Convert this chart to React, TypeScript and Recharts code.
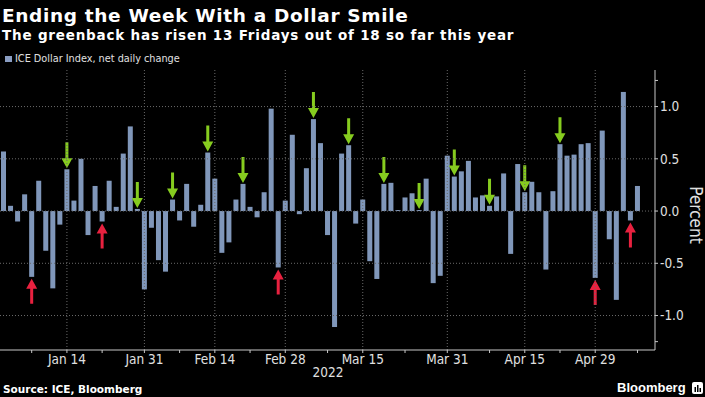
import { Bar, BarChart, ReferenceLine, XAxis, YAxis } from "recharts";

const janDays = [3, 4, 5, 6, 7, 10, 11, 12, 13, 14, 17, 18, 19, 20, 21, 24, 25, 26, 27, 28, 31];
const janChange = [0.57, 0.05, -0.1, 0.16, -0.63, 0.29, -0.38, -0.74, -0.13, 0.4, 0.1, 0.5, -0.23, 0.24, -0.1, 0.29, 0.04, 0.55, 0.81, 0.02, -0.75];
const febDays = [1, 2, 3, 4, 7, 8, 9, 10, 11, 14, 15, 16, 17, 18, 21, 22, 23, 24, 25, 28];
const febChange = [-0.16, -0.47, -0.58, 0.11, -0.09, 0.26, -0.15, 0.06, 0.56, 0.31, -0.4, -0.3, 0.11, 0.26, 0.04, -0.06, 0.18, 0.98, -0.54, 0.1];
const marDays = [1, 2, 3, 4, 7, 8, 9, 10, 11, 14, 15, 16, 17, 18, 21, 22, 23, 24, 25, 28, 29, 30, 31];
const marChange = [0.73, -0.03, 0.41, 0.88, 0.65, -0.23, -1.11, 0.55, 0.63, -0.12, 0.11, -0.48, -0.65, 0.26, 0.27, 0.01, 0.13, 0.17, 0.01, 0.31, -0.69, -0.62, 0.53];
const aprDays = [1, 4, 5, 6, 7, 8, 11, 12, 13, 14, 15, 18, 19, 20, 21, 22, 25, 26, 27, 28, 29];
const aprChange = [0.33, 0.38, 0.48, 0.13, 0.15, 0.05, 0.14, 0.36, -0.41, 0.45, 0.18, 0.28, 0.18, -0.56, 0.19, 0.64, 0.53, 0.54, 0.64, 0.65, -0.64];
const mayDays = [2, 3, 4, 5, 6, 9];
const mayChange = [0.77, -0.27, -0.85, 1.14, -0.09, 0.24];

const months = [
  { name: "Jan", index: 0, days: janDays, change: janChange },
  { name: "Feb", index: 1, days: febDays, change: febChange },
  { name: "Mar", index: 2, days: marDays, change: marChange },
  { name: "Apr", index: 3, days: aprDays, change: aprChange },
  { name: "May", index: 4, days: mayDays, change: mayChange }
];

const labelTicks = ["Jan 14", "Jan 31", "Feb 14", "Feb 28", "Mar 15", "Mar 31", "Apr 15", "Apr 29"];
const minorTicks = ["Jan 7", "Jan 21", "Feb 7", "Feb 21", "Mar 8", "Mar 23", "Apr 8", "Apr 22", "May 9"];
const yTicks = [-1.25, -1, -0.5, 0, 0.5, 1, 1.25];
const yGrid = [-1, -0.5, 0, 0.5, 1];

const data = months.flatMap((m) =>
  m.days.map((day, i) => ({
    date: `${m.name} ${day}`,
    change: m.change[i],
    friday: new Date(2022, m.index, day).getDay() === 5
  }))
);

const allTicks = data.map((d) => d.date).filter((d) => labelTicks.includes(d) || minorTicks.includes(d));

const font = "'DejaVu Sans Condensed', 'DejaVu Sans', sans-serif";
const wideFont = "'DejaVu Sans', sans-serif";
const barColor = "#8097ba";
const green = "#86cc1f";
const red = "#e8213f";
const gridColor = "#6a6a6a";
const axisColor = "#c8c8c8";
const textColor = "#e0e0e0";

function FridayBar(props: any) {
  const { x, y, width, height, payload } = props;
  const top = Math.min(y, y + height);
  const h = Math.abs(height);
  const bottom = top + h;
  const cx = x + width / 2;
  let arrow = null;
  if (payload.friday) {
    if (payload.change >= 0) {
      const tip = top - 1;
      arrow = (
        <path
          d={`M${cx - 1.5},${tip - 26} L${cx + 1.5},${tip - 26} L${cx + 1.5},${tip - 10} L${cx + 5.5},${tip - 10} L${cx},${tip} L${cx - 5.5},${tip - 10} L${cx - 1.5},${tip - 10} Z`}
          fill={green}
        />
      );
    } else {
      const tip = bottom + 2;
      arrow = (
        <path
          d={`M${cx - 1.5},${tip + 25} L${cx + 1.5},${tip + 25} L${cx + 1.5},${tip + 10} L${cx + 5.5},${tip + 10} L${cx},${tip} L${cx - 5.5},${tip + 10} L${cx - 1.5},${tip + 10} Z`}
          fill={red}
        />
      );
    }
  }
  return (
    <g>
      <rect x={x} y={top} width={width} height={h} fill={barColor} />
      {arrow}
    </g>
  );
}

export default function App() {
  return (
    <div style={{ position: "absolute", left: 0, top: 0, width: 705, height: 397, background: "#000", overflow: "hidden", fontFamily: font, fontStretch: "condensed" }}>
      <div style={{ position: "absolute", left: 2, top: 4.5, fontSize: 18.5, lineHeight: "22px", fontWeight: 700, color: "#fff", whiteSpace: "nowrap", fontFamily: wideFont, fontStretch: "normal", letterSpacing: 0.65 }}>
        Ending the Week With a Dollar Smile
      </div>
      <div style={{ position: "absolute", left: 2, top: 26.5, fontSize: 13.5, lineHeight: "16px", fontWeight: 700, color: "#fff", whiteSpace: "nowrap", fontFamily: wideFont, fontStretch: "normal", letterSpacing: 0.8 }}>
        The greenback has risen 13 Fridays out of 18 so far this year
      </div>
      <div style={{ position: "absolute", left: 5, top: 52, fontSize: 10.8, lineHeight: "14px", color: textColor, whiteSpace: "nowrap", display: "flex", alignItems: "center" }}>
        <span style={{ display: "inline-block", width: 7, height: 6, background: "#8a9dc2", marginRight: 3 }} />
        ICE Dollar Index, net daily change
      </div>

      <div style={{ position: "absolute", left: 0, top: 0 }}>
        <BarChart width={705} height={397} data={data} margin={{ top: 70, right: 0, left: 0, bottom: 27 }} barSize={5}>
          {yGrid.map((v) => (
            <ReferenceLine key={`h${v}`} y={v} stroke={gridColor} strokeDasharray="1 2" />
          ))}
          {labelTicks.map((t) => (
            <ReferenceLine key={`v${t}`} x={t} stroke={gridColor} strokeDasharray="1 2" />
          ))}
          <XAxis
            dataKey="date"
            ticks={allTicks}
            interval={0}
            height={20}
            padding={{ left: 0, right: 14 }}
            tickFormatter={(v: string) => (labelTicks.includes(v) ? v : "")}
            tick={{ fill: textColor, fontSize: 13.5, fontFamily: font }}
            tickSize={3}
            tickMargin={1}
            stroke={axisColor}
          />
          <YAxis
            orientation="right"
            width={50}
            domain={[-1.33, 1.35]}
            ticks={yTicks}
            interval={0}
            tickFormatter={(v: number) => (Math.abs(v) === 1.25 ? "" : v.toFixed(1))}
            tick={{ fill: textColor, fontSize: 13.5, fontFamily: font }}
            tickSize={3}
            tickMargin={2}
            stroke={axisColor}
          />
          <Bar dataKey="change" fill={barColor} isAnimationActive={false} shape={FridayBar} />
        </BarChart>
      </div>

      <div style={{ position: "absolute", left: 696, top: 215, fontSize: 17, color: textColor, whiteSpace: "nowrap", transform: "translate(-50%, -50%) rotate(90deg)", transformOrigin: "center" }}>
        Percent
      </div>
      <div style={{ position: "absolute", left: 328, top: 364, fontSize: 13.5, lineHeight: "16px", color: textColor, transform: "translateX(-50%)" }}>
        2022
      </div>
      <div style={{ position: "absolute", left: 3, top: 382, fontSize: 10.5, lineHeight: "14px", fontWeight: 700, color: "#fff", whiteSpace: "nowrap", fontFamily: wideFont, fontStretch: "normal" }}>
        Source: ICE, Bloomberg
      </div>
      <div style={{ position: "absolute", left: 617, top: 380, fontSize: 13, lineHeight: "16px", fontWeight: 700, color: "#fff", fontFamily: "'Liberation Sans', Arial, sans-serif", fontStretch: "normal", whiteSpace: "nowrap" }}>
        Bloomberg
      </div>
      <svg style={{ position: "absolute", left: 692, top: 382 }} width={11} height={12}>
        <rect x={0} y={0} width={11} height={12} rx={2} fill="#fff" />
        <rect x={2.5} y={5} width={1.5} height={5} fill="#000" />
        <rect x={5} y={3} width={1.5} height={7} fill="#000" />
        <rect x={7.5} y={6} width={1.5} height={4} fill="#000" />
      </svg>
    </div>
  );
}
